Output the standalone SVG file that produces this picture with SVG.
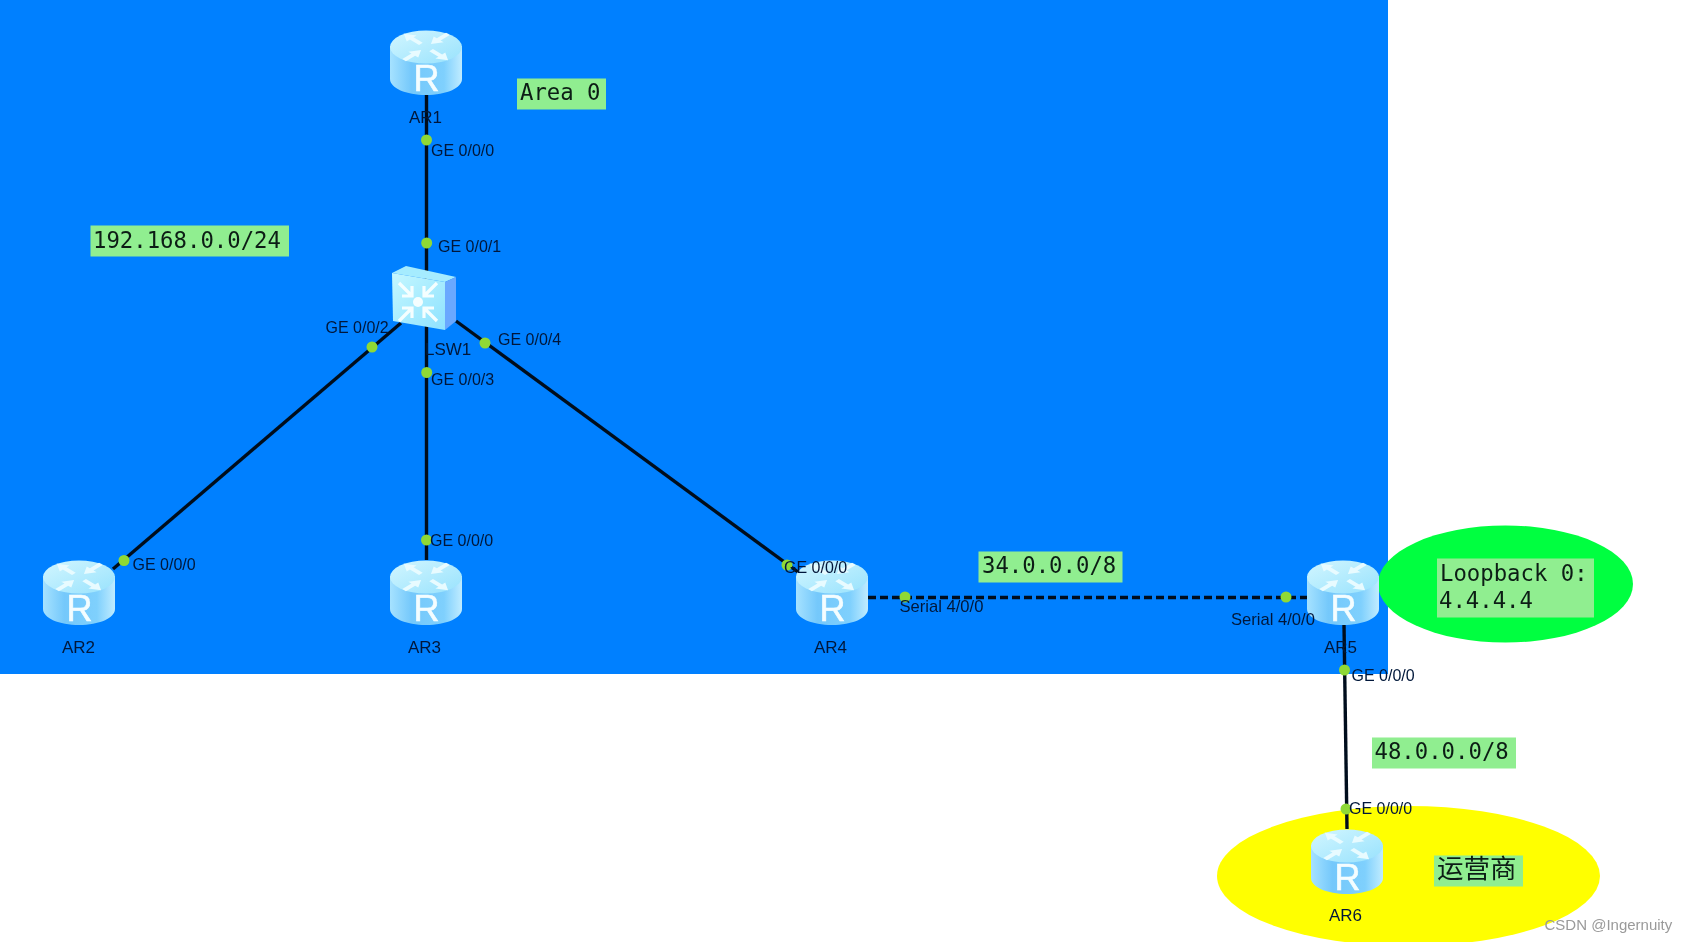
<svg xmlns="http://www.w3.org/2000/svg" xmlns:xlink="http://www.w3.org/1999/xlink" width="1689" height="942" viewBox="0 0 1689 942">
<style>
.port{font-family:"Liberation Sans",Arial,sans-serif;font-size:16px;fill:#06183a}
.wide{font-size:16.6px}
.name{font-family:"Liberation Sans",Arial,sans-serif;font-size:17px;fill:#06183a}
.note{font-family:"DejaVu Sans Mono","Noto Sans CJK SC",monospace;font-size:22.3px;fill:#0c1f14}
.box{fill:#90ee90}
.link{stroke:#02101f;stroke-width:3.4;fill:none}
.serial{stroke-dasharray:8 4}
.dot{fill:#8fd936}
</style>
<defs>
<filter id="soft" x="-2%" y="-2%" width="104%" height="104%"><feGaussianBlur stdDeviation="0.7"/></filter>
<linearGradient id="side" x1="0" x2="1" y1="0" y2="0">
<stop offset="0" stop-color="#a6e2ff"/><stop offset="0.3" stop-color="#74c8fb"/><stop offset="0.75" stop-color="#7fd0fd"/><stop offset="1" stop-color="#c0ecff"/>
</linearGradient>
<linearGradient id="top" x1="0" x2="1" y1="0" y2="1">
<stop offset="0" stop-color="#d2f6ff"/><stop offset="1" stop-color="#98e2fd"/>
</linearGradient>
<linearGradient id="front" x1="0" x2="1" y1="0" y2="1">
<stop offset="0" stop-color="#c4f7ff"/><stop offset="1" stop-color="#8ee2ff"/>
</linearGradient>
<path id="ra" d="M3 -2.600L16 -2.600L16 -7L27 0L16 7L16 2.600L3 2.600Z" fill="#e8fbff"/>
<g id="sa"><path d="M6 -16L6 -6L16 -6M7 -7L19 -19" fill="none" stroke="#f4feff" stroke-width="3.2"/></g>
<g id="router">
<path d="M0 16V49C0 58 16 65 36 65S72 58 72 49V16Z" fill="url(#side)"/>
<ellipse cx="36" cy="17" rx="36" ry="16.500" fill="url(#top)"/>
<g transform="translate(36 17) scale(1 .6)">
<use href="#ra" transform="translate(-3 -3) rotate(-135)"/><use href="#ra" transform="translate(3 3) rotate(45)"/>
<use href="#ra" transform="translate(24 -24) rotate(135)"/><use href="#ra" transform="translate(-24 24) rotate(-45)"/>
</g>
<text x="36.500" y="61" text-anchor="middle" font-family="'Liberation Sans',Arial,sans-serif" font-size="36" stroke="#f4fdff" stroke-width="0.6" fill="#f4fdff">R</text>
</g>
</defs>

<g filter="url(#soft)">
<g id="backdrops">
<rect id="area0" x="0" y="0" width="1388" height="674" fill="#0080ff"/>
<ellipse id="loopback-zone" cx="1505.500" cy="584" rx="127.500" ry="58.500" fill="#00ff40"/>
<ellipse id="carrier-zone" cx="1408.500" cy="876" rx="191.500" ry="70" fill="#ffff00"/>
</g>

<g id="connectors">
<path class="link" d="M426.500 95V560"/>
<path class="link" d="M401 323L113 569"/>
<path class="link" d="M456 321L798 572"/>
<path class="link serial" d="M868 597.500H1307"/>
<path class="link" d="M1344 625L1347 829"/>
<circle class="dot" cx="426.500" cy="140" r="5.500"/>
<circle class="dot" cx="426.700" cy="243" r="5.500"/>
<circle class="dot" cx="372" cy="347" r="5.500"/>
<circle class="dot" cx="426.700" cy="372.500" r="5.500"/>
<circle class="dot" cx="485" cy="343" r="5.500"/>
<circle class="dot" cx="426.500" cy="540" r="5.500"/>
<circle class="dot" cx="124" cy="560.500" r="5.500"/>
<circle class="dot" cx="787" cy="565" r="5.500"/>
<circle class="dot" cx="905" cy="597" r="5.500"/>
<circle class="dot" cx="1286" cy="597" r="5.500"/>
<circle class="dot" cx="1344.500" cy="670" r="5.500"/>
<circle class="dot" cx="1346" cy="809" r="5.500"/>
</g>

<g id="AR1"><use href="#router" x="390" y="30"/><text class="name" x="409" y="123">AR1</text></g>
<g id="AR2"><use href="#router" x="43" y="560"/><text class="name" x="62" y="653">AR2</text></g>
<g id="AR3"><use href="#router" x="390" y="560"/><text class="name" x="408" y="653">AR3</text></g>
<g id="AR4"><use href="#router" x="796" y="560"/><text class="name" x="814" y="653">AR4</text></g>
<g id="AR5"><use href="#router" x="1307" y="560"/><text class="name" x="1324" y="653">AR5</text></g>
<g id="AR6"><use href="#router" x="1311" y="829"/><text class="name" x="1329" y="921">AR6</text></g>
<g id="LSW1">
<polygon points="392,273 406,266 456,277 445,282" fill="#a5ecff"/>
<polygon points="445,282 456,277 456,321 445,330" fill="#6aa8ff"/>
<polygon points="392,273 445,282 445,330 393,321" fill="url(#front)"/>
<circle cx="418" cy="302" r="5" fill="#f4feff"/>
<use href="#sa" transform="translate(418 302) rotate(0)"/>
<use href="#sa" transform="translate(418 302) rotate(90)"/>
<use href="#sa" transform="translate(418 302) rotate(180)"/>
<use href="#sa" transform="translate(418 302) rotate(270)"/>
<text class="name" x="425" y="355">LSW1</text>
</g>

<g id="port-labels">
<text class="port" x="431" y="155.500">GE 0/0/0</text>
<text class="port" x="438" y="251.500">GE 0/0/1</text>
<text class="port" x="325.500" y="332.500">GE 0/0/2</text>
<text class="port" x="498" y="344.500">GE 0/0/4</text>
<text class="port" x="431" y="384.500">GE 0/0/3</text>
<text class="port" x="430" y="545.500">GE 0/0/0</text>
<text class="port" x="132.500" y="569.500">GE 0/0/0</text>
<text class="port" x="784" y="572.500">GE 0/0/0</text>
<text class="port wide" x="899.500" y="611.500">Serial 4/0/0</text>
<text class="port wide" x="1231" y="624.500">Serial 4/0/0</text>
<text class="port" x="1351.500" y="680.500">GE 0/0/0</text>
<text class="port" x="1349" y="813.500">GE 0/0/0</text>
</g>

<g id="note-area"><rect class="box" x="517" y="78.500" width="89" height="31"/><text class="note" x="520" y="100">Area 0</text></g>
<g id="note-lan"><rect class="box" x="90.500" y="225.500" width="198.500" height="31"/><text class="note" x="93" y="248">192.168.0.0/24</text></g>
<g id="note-34"><rect class="box" x="978.500" y="551.500" width="144" height="31"/><text class="note" x="982" y="573">34.0.0.0/8</text></g>
<g id="note-48"><rect class="box" x="1372" y="737.500" width="144" height="31"/><text class="note" x="1374.500" y="759">48.0.0.0/8</text></g>
<g id="note-carrier"><rect class="box" x="1434" y="855.500" width="89" height="31"/><text class="note" x="1437" y="878" style="font-size:26.500px">运营商</text></g>
<g id="note-loopback"><rect class="box" x="1437" y="558.500" width="157" height="59"/><text class="note" x="1440" y="581">Loopback 0:</text><text class="note" x="1439" y="608">4.4.4.4</text></g>
<text id="watermark" x="1544.500" y="929.500" font-family="'Liberation Sans',Arial,sans-serif" font-size="15" fill="#9a9a9a">CSDN @Ingernuity</text>
</g>
</svg>
